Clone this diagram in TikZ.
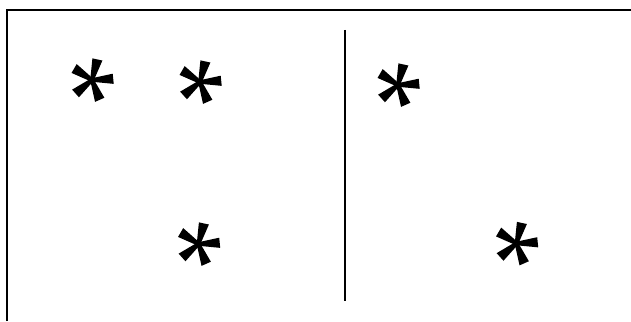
\documentclass[tikz,border=0pt]{standalone}
\usepackage{tikz}

\begin{document}
\begin{tikzpicture}[x=1pt, y=-1pt,
    frame/.style={line width=2pt},
    divider/.style={line width=1.3pt},
    asterisk/.pic={
      \foreach \a in {3,75,147,219,291}
        \fill[rotate=\a] (0,-1.8) -- (21,-5.2) -- (21.5,5) -- (0,1.8) -- cycle;
    },
]
\useasboundingbox (0,0) rectangle (631,321);
% open frame: left side and top only
\draw[frame] (6.5,321) -- (6.5,10) -- (631,10);
% divider between the two halves
\coordinate (d1) at (345,30);
\coordinate (d2) at (345,301);
\draw[divider] (d1) -- (d2);
% left half
\coordinate (s1) at (92,80);
\coordinate (s2) at (200,82);
\coordinate (s3) at (198.5,244);
% right half
\coordinate (s4) at (398,85);
\coordinate (s5) at (516.5,243.5);
\foreach \s in {s1,s2,s3,s4,s5}
  \pic at (\s) {asterisk};
\end{tikzpicture}
\end{document}
